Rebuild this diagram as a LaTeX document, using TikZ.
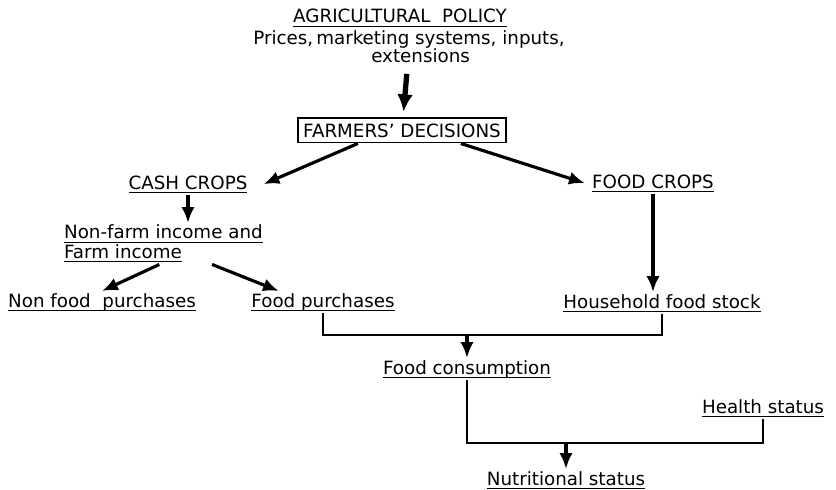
\documentclass[tikz,border=0pt]{standalone}
\usepackage{fontspec}
\setmainfont{DejaVu Sans}
\usepackage{tikz}
\usetikzlibrary{arrows.meta,calc,positioning}
\tikzset{>={Latex[length=9pt,width=7.5pt]}}
\tikzset{label text/.style={font=\fontsize{10.4}{10.1}\selectfont,inner sep=1pt},
            decision box/.style={draw,line width=1.1pt,inner xsep=3pt,inner ysep=3pt,font=\fontsize{10.4}{10.1}\selectfont},
            flow arrow/.style={->,line width=1.8pt},
            join line/.style={line width=1.6pt},
            }
\newcommand{\ulin}[1]{\setbox0\hbox{#1}\rlap{\rule[-2.2pt]{\wd0}{0.7pt}}\box0}

\begin{document}
\begin{tikzpicture}[x=0.02cm,y=-0.02cm]
    \useasboundingbox (0,0) rectangle (836,490);

    \node[label text, anchor=base] (agp) at (400,23) {\ulin{AGRICULTURAL\ \ POLICY}};
    \node[label text, align=center, anchor=north] (pri) at (409,29) {Prices,\,marketing systems, inputs,\\ \ \ \ \ extensions};
    \node[decision box, anchor=base] (fd) at (402,137) {FARMERS' DECISIONS};

    \node[label text, anchor=base] (cc) at (188,189) {\ulin{CASH\ CROPS}};
    \node[label text, anchor=base] (foc) at (653,188) {\ulin{FOOD\ CROPS}};
    \node[label text, align=left, anchor=north west] (inc) at (62,223) {\ulin{Non-farm income and}\\ \ulin{Farm income}};

    \node[label text, anchor=base] (nfp) at (102,307) {\ulin{Non food\ \ purchases}};
    \node[label text, anchor=base] (fp) at (323,307) {\ulin{Food purchases}};
    \node[label text, anchor=base] (hfs) at (662,308) {\ulin{Household food stock}};
    \node[label text, anchor=base] (fcn) at (467,374) {\ulin{Food consumption}};
    \node[label text, anchor=base] (hs) at (763,413) {\ulin{Health status}};
    \node[label text, anchor=base] (ns) at (566,485) {\ulin{Nutritional status}};

    \coordinate (j1) at (467,335);
    \coordinate (j2) at (566,443);

    % policy down to the decisions
    \draw[line width=3pt,-{Latex[length=10pt,width=9pt]},shorten <=5pt,shorten >=3pt] (pri) -- (fd);

    \draw[flow arrow] ($(fd.south west)!0.29!(fd.south east)$) -- ([xshift=8pt]cc.east);
    \draw[flow arrow] ($(fd.south west)!0.78!(fd.south east)$) -- ([xshift=-3pt]foc.west);
    \draw[flow arrow] (cc.south) -- (cc.south |- inc.north);
    \draw[flow arrow] ($(inc.south west)!0.48!(inc.south east)$) -- (nfp.north);
    \draw[flow arrow] ($(inc.south west)!0.74!(inc.south east)$) -- ($(fp.north west)!0.2!(fp.north east)$);
    \draw[flow arrow] (foc.south) -- (foc.south |- hfs.north);

    % the joins below
    \draw[join line] (fp.south) |- (j1) -| (hfs.south);
    \draw[flow arrow] (j1) -- (fcn.north);
    \draw[join line] (fcn.south) |- (j2) -| (hs.south);
    \draw[flow arrow] (j2) -- (ns.north);

\end{tikzpicture}
\end{document}
